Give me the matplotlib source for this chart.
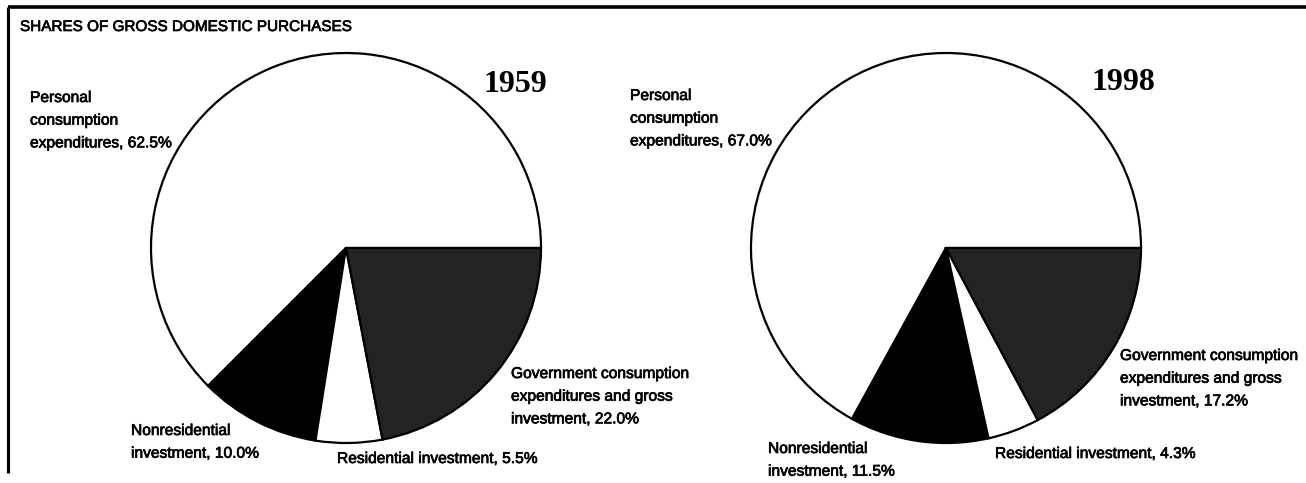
import matplotlib
matplotlib.use('Agg')
import matplotlib.pyplot as plt
import matplotlib.patheffects as pe
from matplotlib import font_manager

# shares of gross domestic purchases (percent)
years = ["1959", "1998"]
categories = ["Personal consumption expenditures", "Nonresidential investment",
              "Residential investment", "Government consumption"]
shares_1959 = [62.5, 10.0, 5.5, 22.0]
shares_1998 = [67.0, 11.5, 4.3, 17.2]
slice_colors = ["white", "black", "white", "#232323"]

labels_1959 = ["Personal\nconsumption\nexpenditures, 62.5%",
               "Nonresidential\ninvestment, 10.0%",
               "Residential investment, 5.5%",
               "Government consumption\nexpenditures and gross\ninvestment, 22.0%"]
labels_1998 = ["Personal\nconsumption\nexpenditures, 67.0%",
               "Nonresidential\ninvestment, 11.5%",
               "Residential investment, 4.3%",
               "Government consumption\nexpenditures and gross\ninvestment, 17.2%"]

names = {f.name for f in font_manager.fontManager.ttflist}
sans = [f for f in ["Liberation Sans Narrow", "Liberation Sans", "DejaVu Sans"] if f in names]
serif = [f for f in ["Liberation Serif", "DejaVu Serif"] if f in names]

W, H = 1306, 483
fig = plt.figure(figsize=(W / 100, H / 100), dpi=100)
ax = fig.add_axes([0, 0, 1, 1])


def py(y):
    # image row -> axes y (y up)
    return H - y


# pie centres / radii in pixels (image rows)
pies = [(shares_1959, (346, 248), 195), (shares_1998, (946, 248), 195)]
for vals, (cx, cy), r in pies:
    ax.pie(vals, colors=slice_colors, startangle=0, counterclock=True,
           center=(cx, py(cy)), radius=r, frame=True,
           wedgeprops=dict(edgecolor="black", linewidth=1.6))

# frame lines
ax.plot([8, W], [py(7), py(7)], color="black", lw=2.6, solid_capstyle="butt")
ax.plot([8, 8], [py(7), py(473)], color="black", lw=2.2, solid_capstyle="butt")

heavy = [pe.withStroke(linewidth=0.5, foreground="black")]

ax.text(20, py(27), "SHARES OF GROSS DOMESTIC PURCHASES", family=sans,
        fontsize=11, va="center", ha="left", path_effects=heavy)

ax.text(515, py(84), years[0], family=serif, fontweight="bold", fontsize=23,
        ha="center", va="center")
ax.text(1123, py(83), years[1], family=serif, fontweight="bold", fontsize=23,
        ha="center", va="center")

lab_kw = dict(family=sans, fontsize=11.2, ha="left", linespacing=1.64,
              path_effects=heavy)
# label anchor positions (left x, top y of block) for each pie
pos_1959 = [(30, 90), (131, 423), (337, 451), (511, 366)]
pos_1998 = [(630, 88), (768, 441), (995, 446), (1120, 348)]
for labels, pos in [(labels_1959, pos_1959), (labels_1998, pos_1998)]:
    for txt, (x, y) in zip(labels, pos):
        ax.text(x, py(y), txt, va="top", **lab_kw)

ax.set_xlim(0, W)
ax.set_ylim(0, H)
ax.set_aspect("auto")
ax.axis("off")

fig.savefig("out.png", dpi=100)
